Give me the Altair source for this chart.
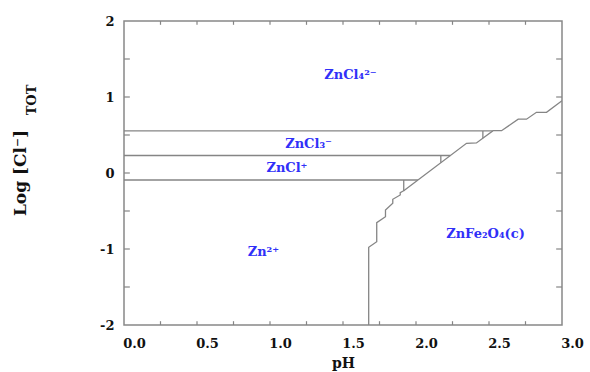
import altair as alt
import pandas as pd

# Boundary between Zn2+ and ZnFe2O4(c)
lower_ph = [1.676, 1.676, 1.731, 1.731, 1.791, 1.791, 1.841, 1.841, 1.892, 1.892, 1.916, 1.916]
lower_log = [-2.0, -0.978, -0.904, -0.654, -0.575, -0.487, -0.399, -0.346, -0.289, -0.259, -0.233, -0.092]

# Boundary between chloro complexes and ZnFe2O4(c)
upper_ph = [1.916, 2.346, 2.414, 2.528, 2.586, 2.700, 2.757, 2.825, 2.894, 3.0]
upper_log = [-0.233, 0.391, 0.395, 0.557, 0.557, 0.708, 0.708, 0.799, 0.799, 0.951]

# Horizontal boundaries between soluble species
hline_log = [-0.092, 0.230, 0.553]
hline_start = [0.0, 0.0, 0.0]
hline_end = [2.013, 2.235, 2.525]

# Small corner marks where the horizontals meet the boundary
corner_ph = [2.17, 2.458]
corner_top = [0.230, 0.553]
corner_bottom = [0.136, 0.458]

# Species labels
species = ["ZnCl₄²⁻", "ZnCl₃⁻", "ZnCl⁺", "Zn²⁺", "ZnFe₂O₄(c)"]
species_ph = [1.551, 1.264, 1.116, 0.955, 2.476]
species_log = [1.289, 0.388, 0.072, -1.046, -0.803]

# Axis ticks / labels
x_labels = [0.0, 0.5, 1.0, 1.5, 2.0, 2.5, 3.0]
x_minor = [0.25, 0.5, 0.75, 1.0, 1.25, 1.5, 1.75, 2.0, 2.25, 2.5, 2.75]
y_labels = [-2, -1, 0, 1, 2]
y_minor = [-1.5, -1.0, -0.5, 0.0, 0.5, 1.0, 1.5]

LINE = "#858585"
FONT = "DejaVu Serif"

xs = alt.Scale(domain=[0, 3], nice=False)
ys = alt.Scale(domain=[-2, 2], nice=False)

rows = []
for i, (p, l) in enumerate(zip(lower_ph, lower_log)):
    rows.append({"ph": p, "logcl": l, "seg": "lower", "o": i})
for i, (p, l) in enumerate(zip(upper_ph, upper_log)):
    rows.append({"ph": p, "logcl": l, "seg": "upper", "o": i})
lines_df = pd.DataFrame(rows)

seg_rows = []
for l, a, b in zip(hline_log, hline_start, hline_end):
    seg_rows.append({"x": a, "x2": b, "y": l, "y2": l})
for p, t, b in zip(corner_ph, corner_top, corner_bottom):
    seg_rows.append({"x": p, "x2": p, "y": t, "y2": b})
segs_df = pd.DataFrame(seg_rows)

tick_rows = []
for v in x_minor:
    tick_rows.append({"x": v, "x2": v, "y": -2.0, "y2": -2.0 + 0.05})
    tick_rows.append({"x": v, "x2": v, "y": 2.0, "y2": 2.0 - 0.05})
for v in y_minor:
    tick_rows.append({"x": 0.0, "x2": 0.04, "y": v, "y2": v})
    tick_rows.append({"x": 3.0, "x2": 3.0 - 0.04, "y": v, "y2": v})
ticks_df = pd.DataFrame(tick_rows)

labels_df = pd.DataFrame({"ph": species_ph, "logcl": species_log, "name": species})

base_lines = alt.Chart(lines_df).mark_line(color=LINE, strokeWidth=1.3, clip=True).encode(
    x=alt.X("ph:Q", scale=xs,
            axis=alt.Axis(values=x_labels, format=".1f", title="pH", grid=False, domain=False,
                          ticks=False, tickSize=0, labelFont=FONT, labelFontSize=13,
                          labelFontWeight="bold", labelColor="#111", labelPadding=12,
                          labelOffset=10, labelFlush=False,
                          titleFont=FONT, titleFontSize=14, titleFontWeight="bold",
                          titleColor="#111", titlePadding=6)),
    y=alt.Y("logcl:Q", scale=ys,
            axis=alt.Axis(values=y_labels, title=None, grid=False, domain=False, ticks=False,
                          tickSize=0, labelFont=FONT, labelFontSize=13, labelFontWeight="bold",
                          labelColor="#111", labelPadding=10, labelFlush=False,
                          labelExpr="datum.value < 0 ? '-' + abs(datum.value) : '' + datum.value")),
    detail="seg:N",
    order="o:Q",
)

segs = alt.Chart(segs_df).mark_rule(color=LINE, strokeWidth=1.3).encode(
    x=alt.X("x:Q", scale=xs), x2="x2:Q", y=alt.Y("y:Q", scale=ys), y2="y2:Q"
)

ticks = alt.Chart(ticks_df).mark_rule(color=LINE, strokeWidth=1.2).encode(
    x=alt.X("x:Q", scale=xs), x2="x2:Q", y=alt.Y("y:Q", scale=ys), y2="y2:Q"
)

labels = alt.Chart(labels_df).mark_text(color="#3030f8", font=FONT, fontSize=13,
                                         fontWeight="bold").encode(
    x=alt.X("ph:Q", scale=xs), y=alt.Y("logcl:Q", scale=ys), text="name:N"
)

ytitle_df = pd.DataFrame({"t": ["Log [Cl⁻]"]})
ytitle = alt.Chart(ytitle_df).mark_text(angle=270, font=FONT, fontSize=17, fontWeight="bold",
                                        color="#111", baseline="middle", align="center").encode(
    x=alt.value(-103), y=alt.value(152), text="t:N"
)
ysub_df = pd.DataFrame({"t": ["TOT"]})
ysub = alt.Chart(ysub_df).mark_text(angle=270, font=FONT, fontSize=13, fontWeight="bold",
                                    color="#111", baseline="middle", align="center").encode(
    x=alt.value(-92), y=alt.value(79), text="t:N"
)

chart = alt.layer(base_lines, segs, ticks, labels, ytitle, ysub).properties(
    width=438, height=304,
    padding={"left": 124, "top": 21, "right": 28, "bottom": 47},
    autosize="none",
    background="white",
).configure_view(stroke="#888888", strokeWidth=1.5)

chart.save("out.html", embed_options={"renderer": "svg", "actions": False})
